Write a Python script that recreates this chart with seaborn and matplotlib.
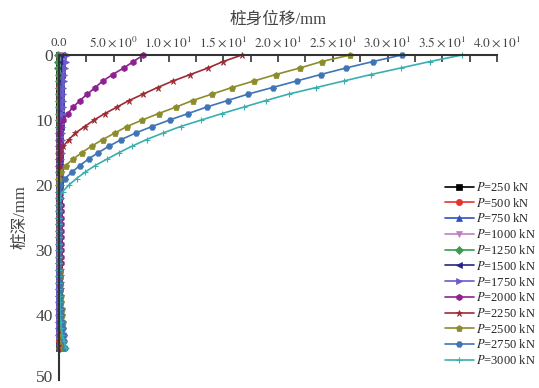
import pandas as pd
import matplotlib
matplotlib.use('Agg')
import matplotlib.pyplot as plt
import matplotlib.transforms as mtransforms
import seaborn as sns
from matplotlib.ticker import MultipleLocator

# depth of pile nodes
depth = [0, 1, 2, 3, 4, 5, 6, 7, 8, 9, 10, 11, 12, 13, 14, 15, 16, 17, 18, 19, 20, 21, 22,
         23, 24, 25, 26, 27, 28, 29, 30, 31, 32, 33, 34, 35, 36, 37, 38, 39, 40, 41, 42, 43, 44, 45]

p250 = [0.03, 0.03, 0.03, 0.02, 0.02, 0.02, 0.02, 0.02, 0.01, 0.01, 0.01, 0.01, 0.01, 0.01, 0.01, 0.01,
        0.0, 0.0, 0.0, 0.0, 0.0, 0.0, 0.0, 0.0, 0.0, 0.0, 0.0, 0.0, 0.0, 0.0, 0.0, 0.0,
        0.0, 0.0, 0.0, 0.0, 0.0, 0.0, 0.0, 0.0, 0.0, 0.0, 0.01, 0.01, 0.01, 0.02]
p500 = [0.05, 0.05, 0.04, 0.04, 0.04, 0.03, 0.03, 0.03, 0.03, 0.02, 0.02, 0.02, 0.02, 0.02, 0.01, 0.01,
        0.01, 0.01, 0.01, 0.0, 0.0, 0.0, 0.0, 0.0, 0.0, 0.0, 0.0, 0.0, 0.0, 0.0, 0.0, 0.0,
        0.0, 0.0, 0.0, 0.0, 0.0, 0.0, 0.0, 0.0, 0.0, 0.01, 0.01, 0.02, 0.02, 0.03]
p750 = [0.08, 0.08, 0.07, 0.07, 0.06, 0.06, 0.05, 0.05, 0.04, 0.04, 0.04, 0.03, 0.03, 0.03, 0.02, 0.02,
        0.02, 0.02, 0.01, 0.01, 0.01, 0.01, 0.0, 0.0, 0.0, 0.0, 0.0, 0.0, 0.0, 0.0, 0.0, 0.0,
        0.0, 0.0, 0.0, 0.0, 0.0, 0.0, 0.0, 0.0, 0.01, 0.01, 0.02, 0.02, 0.03, 0.04]
p1000 = [0.12, 0.11, 0.1, 0.1, 0.09, 0.08, 0.08, 0.07, 0.06, 0.06, 0.05, 0.05, 0.04, 0.04, 0.03, 0.03,
         0.03, 0.02, 0.02, 0.02, 0.01, 0.01, 0.01, 0.0, 0.0, 0.0, 0.0, 0.0, 0.0, 0.0, 0.0, 0.0,
         0.0, 0.0, 0.0, 0.0, 0.0, 0.0, 0.01, 0.01, 0.01, 0.02, 0.02, 0.03, 0.04, 0.05]
p1250 = [-0.08, -0.06, -0.05, -0.04, -0.03, -0.02, -0.02, -0.01, -0.01, 0.0, 0.0, 0.0, 0.0, 0.0, 0.0, 0.0,
         0.0, 0.0, 0.0, 0.0, 0.0, 0.0, 0.0, 0.0, 0.0, 0.0, 0.0, 0.0, 0.0, 0.0, 0.0, 0.0,
         0.0, 0.0, 0.0, 0.0, 0.0, 0.0, 0.01, 0.01, 0.02, 0.02, 0.03, 0.04, 0.05, 0.06]
p1500 = [0.3, 0.28, 0.26, 0.24, 0.22, 0.2, 0.19, 0.18, 0.17, 0.16, 0.15, 0.14, 0.13, 0.12, 0.11, 0.1,
         0.09, 0.08, 0.07, 0.06, 0.05, 0.05, 0.04, 0.04, 0.03, 0.03, 0.02, 0.02, 0.02, 0.01, 0.01, 0.01,
         0.01, 0.01, 0.01, 0.01, 0.01, 0.01, 0.01, 0.02, 0.02, 0.03, 0.04, 0.05, 0.06, 0.08]
p1750 = [0.7, 0.6, 0.52, 0.46, 0.42, 0.4, 0.38, 0.35, 0.33, 0.3, 0.28, 0.27, 0.26, 0.25, 0.24, 0.23,
         0.22, 0.21, 0.2, 0.19, 0.18, 0.17, 0.16, 0.15, 0.14, 0.12, 0.1, 0.08, 0.06, 0.05, 0.04, 0.03,
         0.02, 0.02, 0.02, 0.02, 0.02, 0.02, 0.02, 0.02, 0.02, 0.02, 0.03, 0.04, 0.05, 0.06]
p2000 = [7.7, 6.8, 5.9, 4.9, 4.0, 3.3, 2.6, 1.9, 1.3, 0.8, 0.4, 0.1, 0.03, 0.02, 0.02, 0.02,
         0.03, 0.04, 0.05, 0.06, 0.08, 0.1, 0.12, 0.15, 0.18, 0.2, 0.22, 0.22, 0.22, 0.2, 0.2, 0.18,
         0.15, 0.12, 0.1, 0.08, 0.06, 0.05, 0.05, 0.05, 0.05, 0.05, 0.05, 0.05, 0.05, 0.05]
p2250 = [16.7, 15.0, 13.6, 12.0, 10.4, 9.0, 7.7, 6.4, 5.3, 4.2, 3.2, 2.35, 1.5, 0.9, 0.4, 0.1,
         0.02, 0.01, 0.01, 0.0, 0.0, 0.0, 0.0, 0.0, 0.0, 0.0, 0.01, 0.02, 0.04, 0.06, 0.08, 0.1,
         0.12, 0.15, 0.18, 0.2, 0.22, 0.2, 0.18, 0.15, 0.12, 0.1, 0.1, 0.12, 0.15, 0.2]
p2500 = [26.6, 24.0, 22.0, 19.8, 17.8, 15.8, 14.0, 12.2, 10.7, 9.1, 7.6, 6.2, 5.1, 4.0, 3.0, 2.1,
         1.3, 0.6, 0.15, 0.02, 0.01, 0.01, 0.0, 0.0, 0.0, 0.0, 0.0, 0.0, 0.0, 0.0, 0.01, 0.02,
         0.04, 0.06, 0.08, 0.1, 0.12, 0.15, 0.2, 0.25, 0.3, 0.32, 0.3, 0.28, 0.3, 0.35]
p2750 = [31.3, 28.7, 26.2, 23.9, 21.7, 19.5, 17.3, 15.4, 13.5, 11.8, 10.1, 8.5, 7.0, 5.7, 4.6, 3.6,
         2.7, 1.9, 1.2, 0.55, 0.1, 0.02, 0.01, 0.01, 0.01, 0.0, 0.0, 0.0, 0.0, 0.0, 0.0, 0.0,
         0.01, 0.02, 0.03, 0.05, 0.07, 0.1, 0.12, 0.15, 0.2, 0.28, 0.38, 0.45, 0.5, 0.55]
p3000 = [36.8, 33.9, 31.2, 28.5, 26.0, 23.5, 21.0, 18.9, 16.9, 14.9, 13.0, 11.1, 9.5, 8.0, 6.7, 5.5,
         4.4, 3.3, 2.4, 1.6, 0.9, 0.35, 0.05, 0.02, 0.02, 0.01, 0.01, 0.01, 0.0, 0.0, 0.0, 0.0,
         0.0, 0.01, 0.01, 0.02, 0.03, 0.05, 0.07, 0.1, 0.12, 0.15, 0.2, 0.3, 0.45, 0.6]

loads = ['250', '500', '750', '1000', '1250', '1500', '1750', '2000', '2250', '2500', '2750', '3000']
series = [p250, p500, p750, p1000, p1250, p1500, p1750, p2000, p2250, p2500, p2750, p3000]
colors = ['#000000', '#e8322e', '#3050c0', '#c07fc4', '#3a9a4e', '#262680',
          '#6a5acd', '#8e2191', '#9e2a33', '#8c8c2c', '#3f74b5', '#3aafaf']
markers = ['s', 'o', '^', 'v', 'D', '<', '>', 'h', '*', 'p', 'H', '+']

x_ticks = [0, 5, 10, 15, 20, 25, 30, 35, 40]
x_labels = ['0.0', r'$5.0\times10^{0}$', r'$1.0\times10^{1}$', r'$1.5\times10^{1}$', r'$2.0\times10^{1}$',
            r'$2.5\times10^{1}$', r'$3.0\times10^{1}$', r'$3.5\times10^{1}$', r'$4.0\times10^{1}$']

sns.set_theme(style='white')
plt.rcParams['font.family'] = ['Liberation Serif', 'Noto Sans CJK SC']
plt.rcParams['mathtext.fontset'] = 'stix'
plt.rcParams['axes.unicode_minus'] = False

fig = plt.figure(figsize=(5.39, 3.88), dpi=100)
ax = fig.add_axes([59 / 539, 1 - 380 / 388, (497 - 59) / 539, (380 - 55) / 388])

for load, vals, c, m in zip(loads, series, colors, markers):
    df = pd.DataFrame({'u': vals, 'depth': depth})
    sns.lineplot(data=df, x='u', y='depth', ax=ax, sort=False, estimator=None, orient='y',
                 color=c, marker=m, markersize=4.5, mec=c, mfc=c, mew=0.8 if m == '+' else 0.5,
                 linewidth=1.2, label=r'$P$=' + load + ' kN', clip_on=False)

ax.set_xlim(0, 40)
ax.set_ylim(50, 0)
ax.xaxis.tick_top()
ax.xaxis.set_label_position('top')
ax.set_xticks(x_ticks)
ax.set_xticklabels(x_labels, fontsize=9.5, color='#444444')
ax.xaxis.set_minor_locator(MultipleLocator(2.5))
ax.set_yticks([0, 10, 20, 30, 40, 50])
ax.set_yticklabels(['0', '10', '20', '30', '40', '50'], fontsize=12.5, color='#444444')
ax.tick_params(axis='x', which='both', direction='in', length=5, width=1.2, color='#333333', pad=4,
               top=True, bottom=False)
ax.tick_params(axis='y', which='major', direction='in', length=5, width=1.2, color='#333333', pad=4.5)
ax.set_xlabel('桩身位移/mm', fontsize=12, color='#444444', labelpad=8)
ax.set_ylabel('桩深/mm', fontsize=12, color='#444444', labelpad=5)

# nudge the bottom tick label up so it stays inside the canvas
last = ax.get_yticklabels()[-1]
last.set_transform(last.get_transform() + mtransforms.ScaledTranslation(0, 3 / 72, fig.dpi_scale_trans))

for side in ['right', 'bottom']:
    ax.spines[side].set_visible(False)
for side in ['left', 'top']:
    ax.spines[side].set_color('#333333')
    ax.spines[side].set_linewidth(1.5)

ax.legend(loc='upper left', bbox_to_anchor=(445 / 539, 1 - 181 / 388), bbox_transform=fig.transFigure,
          frameon=False, fontsize=9, handlelength=2.3, handletextpad=0.2, labelspacing=0.22,
          borderpad=0, borderaxespad=0)

fig.savefig('out.png', dpi=100)
